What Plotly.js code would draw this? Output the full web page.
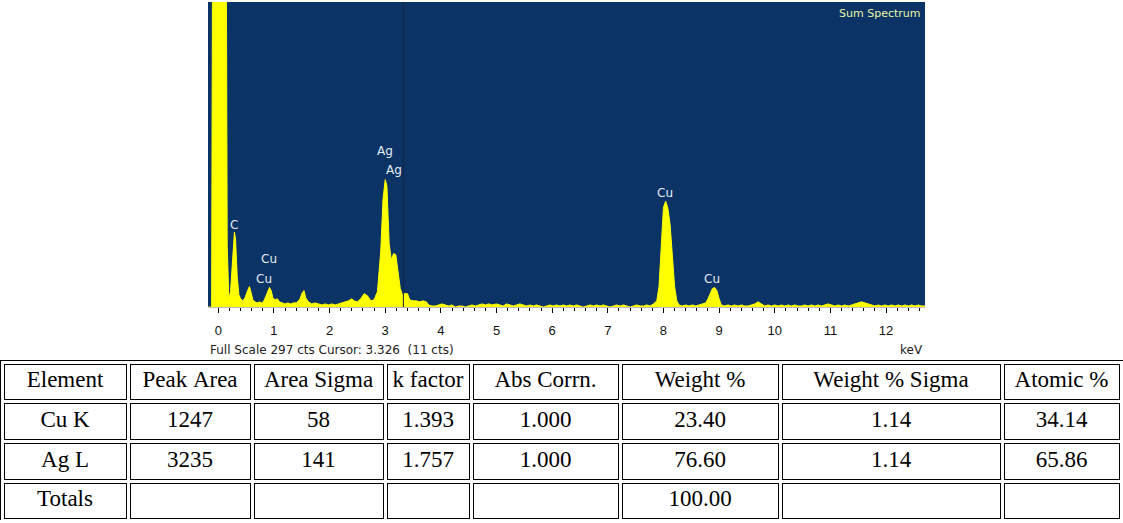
<!DOCTYPE html>
<html>
<head>
<meta charset="utf-8">
<script src="https://cdn.plot.ly/plotly-3.0.1.min.js"></script>
<style>
  html, body { margin: 0; padding: 0; background: #ffffff; }
  #chart { width: 1123px; height: 523px; }
</style>
</head>
<body>
<div id="chart"></div>
<script>
// ---------- spectrum data (keV, counts) ----------
const energyKeV = [
  -0.185, -0.12, -0.10, 0.14, 0.16, 0.19, 0.22, 0.26, 0.29, 0.31, 0.34, 0.37, 0.40, 0.44, 0.48,
  0.52, 0.56, 0.59, 0.62, 0.66, 0.70, 0.74, 0.78, 0.82, 0.87, 0.92, 0.95, 0.98, 1.02, 1.06,
  1.10, 1.14, 1.20, 1.25, 1.30, 1.35, 1.40, 1.46, 1.51, 1.54, 1.57, 1.62, 1.68, 1.74, 1.80,
  1.86, 1.92, 1.98, 2.04, 2.10, 2.16, 2.22, 2.28, 2.34, 2.40, 2.44, 2.50, 2.56, 2.62, 2.68,
  2.74, 2.80, 2.86, 2.92, 2.96, 3.00, 3.03, 3.07, 3.11, 3.15, 3.19, 3.23, 3.27, 3.31, 3.34,
  3.40, 3.44, 3.50, 3.56, 3.62, 3.68, 3.74, 3.78, 3.84, 3.90, 3.96, 4.02, 4.08, 4.14, 4.20,
  4.26, 4.32, 4.38, 4.44, 4.50, 4.56, 4.62, 4.68, 4.74, 4.80, 4.86, 4.92, 5.00, 5.06, 5.12,
  5.18, 5.24, 5.30, 5.36, 5.42, 5.48, 5.54, 5.60, 5.66, 5.72, 5.78, 5.84, 5.90, 5.96, 6.02,
  6.08, 6.14, 6.20, 6.26, 6.32, 6.38, 6.44, 6.50, 6.56, 6.62, 6.68, 6.74, 6.80, 6.86, 6.92,
  6.98, 7.04, 7.10, 7.16, 7.22, 7.28, 7.34, 7.40, 7.46, 7.52, 7.58, 7.64, 7.70, 7.76, 7.82,
  7.88, 7.92, 7.96, 8.00, 8.04, 8.08, 8.12, 8.16, 8.20, 8.24, 8.28, 8.34, 8.40, 8.46, 8.52,
  8.58, 8.64, 8.70, 8.76, 8.80, 8.84, 8.88, 8.92, 8.96, 9.00, 9.04, 9.10, 9.16, 9.22, 9.28,
  9.34, 9.40, 9.46, 9.52, 9.58, 9.64, 9.70, 9.76, 9.82, 9.88, 9.94, 10.00, 10.06, 10.12, 10.18,
  10.24, 10.30, 10.36, 10.42, 10.48, 10.54, 10.60, 10.66, 10.72, 10.78, 10.84, 10.90, 10.96, 11.02, 11.08,
  11.14, 11.20, 11.26, 11.32, 11.38, 11.44, 11.50, 11.56, 11.62, 11.68, 11.74, 11.80, 11.86, 11.92, 11.98,
  12.04, 12.10, 12.16, 12.22, 12.28, 12.34, 12.40, 12.46, 12.52, 12.58, 12.64, 12.70
];
const counts = [
  0, 0, 420, 420, 60, 8, 15, 50, 73, 66, 30, 12, 8, 6, 9,
  15, 20, 14, 7, 5, 4, 5, 4, 6, 13, 19, 16, 9, 7, 8,
  5, 4, 3, 4, 3, 4, 4, 7, 14, 16, 9, 5, 3, 4, 3,
  2, 3, 2, 3, 2, 3, 4, 5, 6, 8, 6, 5, 8, 13, 11,
  6, 7, 15, 55, 105, 124, 118, 62, 46, 52, 51, 36, 18, 12, 13,
  13, 7, 6, 6, 5, 6, 5, 2, 1, 1, 2, 3, 2, 1, 2,
  0, 1, 1, 0, 1, 2, 1, 2, 3, 2, 3, 2, 3, 2, 1,
  3, 2, 1, 2, 3, 2, 1, 2, 1, 2, 1, 0, 1, 2, 1,
  2, 1, 2, 1, 2, 1, 2, 1, 0, 1, 2, 1, 2, 1, 2,
  1, 0, 1, 2, 1, 2, 1, 0, 1, 2, 1, 1, 2, 1, 3,
  6, 20, 62, 97, 103, 96, 80, 50, 20, 6, 2, 1, 2, 1, 2,
  1, 2, 3, 4, 8, 14, 18, 19, 16, 8, 2, 1, 2, 1, 2,
  1, 2, 1, 1, 2, 3, 5, 3, 1, 2, 1, 2, 1, 2, 1,
  2, 1, 2, 1, 1, 2, 1, 2, 1, 2, 1, 2, 3, 2, 1,
  2, 1, 2, 1, 2, 3, 4, 5, 4, 3, 2, 1, 2, 1, 2,
  1, 2, 1, 2, 1, 2, 1, 2, 1, 2, 1, 1
];

const fullScaleCts = 297;
const cursorKeV = 3.326;
const cursorCts = 11;
const energyRange = [-0.185, 12.7];

// peak labels
const peakLabels = ['C', 'Cu', 'Cu', 'Ag', 'Ag', 'Cu', 'Cu'];
const peakLabelKeV = [0.29, 0.92, 0.82, 3.00, 3.15, 8.02, 8.87];
const peakLabelCts = [80, 47, 27, 152, 133, 111, 27];

// ---------- quantification table ----------
const tableHeader = ['Element', 'Peak Area', 'Area Sigma', 'k factor', 'Abs Corrn.', 'Weight %', 'Weight % Sigma', 'Atomic %'];
const elementCol = ['Cu K', 'Ag L', 'Totals'];
const peakArea = ['1247', '3235', ''];
const areaSigma = ['58', '141', ''];
const kFactor = ['1.393', '1.757', ''];
const absCorrn = ['1.000', '1.000', ''];
const weightPct = ['23.40', '76.60', '100.00'];
const weightPctSigma = ['1.14', '1.14', ''];
const atomicPct = ['34.14', '65.86', ''];

const cellColumns = [elementCol, peakArea, areaSigma, kFactor, absCorrn, weightPct, weightPctSigma, atomicPct];
const colWidths = [126, 124, 133, 86, 149, 160, 222, 119];

const W = 1123, H = 523;
const plotL = 208, plotR = 925, plotT = 2, plotB = 307;
const tableTop = 362, tableBottom = 521;
const rowH = (tableBottom - tableTop) / 4 - 0.05;

// keep multi-word labels on one line (non-breaking spaces)
const nb = s => s.replace(/ /g, '\u00a0');
const headerText = tableHeader.map(nb);
const cellText = cellColumns.map(c => c.map(nb));
const blankCols = cellColumns.map(c => c.map(() => ''));
const blankHeader = tableHeader.map(() => '');
const tableDomain = { x: [2 / W, 1121 / W], y: [(H - tableBottom) / H, (H - tableTop) / H] };

const serifFont = { family: 'Liberation Serif, Times New Roman, serif', size: 23, color: '#000000' };
const uiFont = 'DejaVu Sans, Verdana, sans-serif';

const traces = [
  {
    type: 'scatter',
    x: energyKeV,
    y: counts,
    mode: 'lines',
    line: { color: '#ffff00', width: 1, shape: 'linear' },
    fill: 'tozeroy',
    fillcolor: '#ffff00',
    hoverinfo: 'skip',
    xaxis: 'x', yaxis: 'y'
  },
  {
    type: 'table',
    domain: tableDomain,
    columnwidth: colWidths,
    header: {
      values: blankHeader,
      fill: { color: '#ffffff' },
      line: { color: '#000000', width: 5 },
      font: serifFont,
      height: rowH
    },
    cells: {
      values: blankCols,
      fill: { color: '#ffffff' },
      line: { color: '#000000', width: 5 },
      font: serifFont,
      height: rowH
    },
    hoverinfo: 'skip'
  },
  {
    type: 'table',
    domain: tableDomain,
    columnwidth: colWidths,
    header: {
      values: headerText,
      align: 'center',
      fill: { color: 'rgba(0,0,0,0)' },
      line: { color: '#ffffff', width: 3 },
      font: serifFont,
      height: rowH
    },
    cells: {
      values: cellText,
      align: 'center',
      fill: { color: 'rgba(0,0,0,0)' },
      line: { color: '#ffffff', width: 3 },
      font: serifFont,
      height: rowH
    },
    hoverinfo: 'skip'
  }
];

const annotations = peakLabels.map((t, i) => ({
  x: peakLabelKeV[i], y: peakLabelCts[i], xref: 'x', yref: 'y',
  text: t, showarrow: false,
  font: { family: uiFont, size: 12, color: '#e4ebf2' }
}));

annotations.push({
  x: (plotR - 3) / W, y: (H - 14) / H, xref: 'paper', yref: 'paper',
  xanchor: 'right', yanchor: 'middle', showarrow: false,
  text: 'Sum Spectrum',
  font: { family: uiFont, size: 11, color: '#e8f4a8' }
});
annotations.push({
  x: plotL / W, y: (H - 350) / H, xref: 'paper', yref: 'paper',
  xanchor: 'left', yanchor: 'middle', showarrow: false,
  text: 'Full Scale ' + fullScaleCts + ' cts Cursor: ' + cursorKeV.toFixed(3) + '  (' + cursorCts + ' cts)',
  font: { family: uiFont, size: 12, color: '#222222' }
});
annotations.push({
  x: plotR / W, y: (H - 350) / H, xref: 'paper', yref: 'paper',
  xanchor: 'right', yanchor: 'middle', showarrow: false,
  text: 'keV',
  font: { family: uiFont, size: 12, color: '#222222' }
});

const layout = {
  width: W, height: H,
  margin: { l: 0, r: 0, t: 0, b: 0, pad: 0 },
  paper_bgcolor: '#ffffff',
  plot_bgcolor: '#0b3366',
  showlegend: false,
  xaxis: {
    domain: [plotL / W, plotR / W],
    range: energyRange,
    dtick: 1, tick0: 0,
    ticks: 'outside', ticklen: 5, tickwidth: 1, tickcolor: '#000000',
    ticklabelstandoff: 6,
    minor: { dtick: 0.2, ticks: 'outside', ticklen: 3, tickwidth: 1, tickcolor: '#000000', showgrid: false },
    showgrid: false, zeroline: false,
    showline: true, linecolor: '#bbbbbb', linewidth: 1,
    tickfont: { family: 'Liberation Sans, Arial, sans-serif', size: 13, color: '#111111' },
    fixedrange: true
  },
  yaxis: {
    domain: [(H - plotB) / H, (H - plotT) / H],
    range: [0, fullScaleCts],
    visible: false, showgrid: false, zeroline: false,
    fixedrange: true
  },
  shapes: [
    {
      type: 'line', xref: 'x', yref: 'y',
      x0: cursorKeV, x1: cursorKeV, y0: 0, y1: fullScaleCts,
      line: { color: '#13253d', width: 1 }
    }
  ],
  annotations: annotations
};

Plotly.newPlot('chart', traces, layout, { displayModeBar: false, staticPlot: true });
</script>
</body>
</html>
